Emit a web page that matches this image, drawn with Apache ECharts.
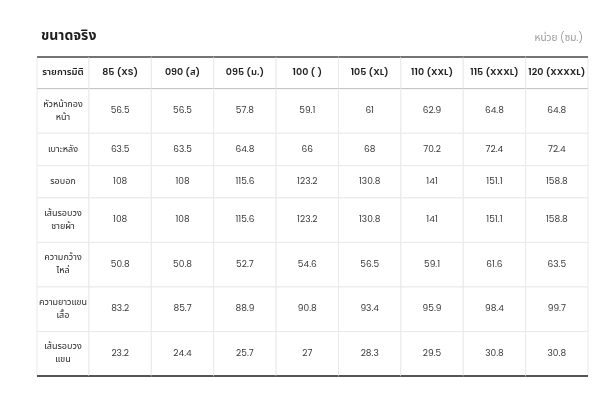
<!DOCTYPE html>
<html><head><meta charset="utf-8">
<script src="https://cdn.jsdelivr.net/npm/echarts@6/dist/echarts.min.js"></script>
<style>html,body{margin:0;padding:0;background:#fff}#c{width:615px;height:400px}</style>
</head><body><div id="c"></div>
<script>
const titleText = 'ขนาดจริง';
const unitText = 'หน่วย (ซม.)';
const cornerLabel = 'รายการมิติ';
const sizes = ['85 (XS)', '090 (ส)', '095 (ม.)', '100 ( )', '105 (XL)', '110 (XXL)', '115 (XXXL)', '120 (XXXXL)'];
const measures = ['หัวหน้ากอง\nหน้า', 'เบาะหลัง', 'รอบอก', 'เส้นรอบวง\nชายผ้า', 'ความกว้าง\nไหล่', 'ความยาวแขน\nเสื้อ', 'เส้นรอบวง\nแขน'];
const frontLength = [56.5, 56.5, 57.8, 59.1, 61, 62.9, 64.8, 64.8];
const backLength = [63.5, 63.5, 64.8, 66, 68, 70.2, 72.4, 72.4];
const chest = [108, 108, 115.6, 123.2, 130.8, 141, 151.1, 158.8];
const hem = [108, 108, 115.6, 123.2, 130.8, 141, 151.1, 158.8];
const shoulder = [50.8, 50.8, 52.7, 54.6, 56.5, 59.1, 61.6, 63.5];
const sleeveLength = [83.2, 85.7, 88.9, 90.8, 93.4, 95.9, 98.4, 99.7];
const sleeveCirc = [23.2, 24.4, 25.7, 27, 28.3, 29.5, 30.8, 30.8];
const rowValues = [frontLength, backLength, chest, hem, shoulder, sleeveLength, sleeveCirc];

// layout weights (styling)
const FIRST_COL_W = 52, COL_W = 62.4;
const HEADER_H = 32, ONE_LINE_H = 32.5, TWO_LINE_H = 44.8;
const colEdges = [0];
colEdges.push(FIRST_COL_W);
sizes.forEach(() => colEdges.push(colEdges[colEdges.length - 1] + COL_W));
const rowEdges = [0, HEADER_H];
measures.forEach(m => rowEdges.push(rowEdges[rowEdges.length - 1] + (m.indexOf('\n') >= 0 ? TWO_LINE_H : ONE_LINE_H)));
const totalW = colEdges[colEdges.length - 1];
const totalH = rowEdges[rowEdges.length - 1];

function cellText(col, row) {
  if (row === 0) return col === 0 ? cornerLabel : sizes[col - 1];
  if (col === 0) return measures[row - 1];
  return String(rowValues[row - 1][col - 1]);
}

const cells = [];
for (let r = 0; r <= measures.length; r++) {
  for (let c = 0; c <= sizes.length; c++) cells.push([c, r]);
}

const FONT = "'Poppins','Noto Sans','Noto Sans Thai',sans-serif";
const nRows = measures.length + 1;

function renderItem(params, api) {
  const col = api.value(0), row = api.value(1);
  const p0 = api.coord([colEdges[col], rowEdges[row]]);
  const p1 = api.coord([colEdges[col + 1], rowEdges[row + 1]]);
  const x = p0[0], y = p0[1], w = p1[0] - p0[0], h = p1[1] - p0[1];
  const isHeader = row === 0;
  const isLabel = col === 0;
  const children = [{
    type: 'rect',
    shape: { x: x, y: y, width: w, height: h },
    style: { fill: '#fff', stroke: '#e9e9e9', lineWidth: 1 }
  }, {
    type: 'text',
    x: x + w / 2, y: y + h / 2,
    style: {
      text: cellText(col, row),
      align: 'center', verticalAlign: 'middle',
      fontFamily: FONT,
      fontSize: isHeader ? 9.5 : 9,
      fontWeight: isHeader ? 600 : 'normal',
      lineHeight: 13,
      fill: isHeader ? '#1e1e1e' : (isLabel ? '#2a2a2a' : '#3a3a3a')
    }
  }];
  if (isHeader) {
    children.push({ type: 'line', shape: { x1: x, y1: y, x2: x + w, y2: y }, style: { stroke: '#4a4a4a', lineWidth: 1.5 } });
    children.push({ type: 'line', shape: { x1: x, y1: y + h, x2: x + w, y2: y + h }, style: { stroke: '#4a4a4a', lineWidth: 1.5 } });
  }
  if (row === nRows - 1) {
    children.push({ type: 'line', shape: { x1: x, y1: y + h, x2: x + w, y2: y + h }, style: { stroke: '#555', lineWidth: 2 } });
  }
  return { type: 'group', children: children };
}

const chart = echarts.init(document.getElementById('c'), null, { renderer: 'canvas' });
chart.setOption({
  animation: false,
  backgroundColor: '#fff',
  title: [{
    text: titleText, left: 36, top: 24,
    textStyle: { fontFamily: FONT, fontSize: 14, fontWeight: 'bold', color: '#1e1e1e' }
  }, {
    text: unitText, right: 27, top: 28,
    textStyle: { fontFamily: FONT, fontSize: 10, fontWeight: 'normal', color: '#999' }
  }],
  grid: { left: 37, right: 27, top: 57, bottom: 24 },
  xAxis: { type: 'value', min: 0, max: totalW, show: false },
  yAxis: { type: 'value', min: 0, max: totalH, inverse: true, show: false },
  series: [{
    type: 'custom',
    renderItem: renderItem,
    data: cells,
    encode: { x: 0, y: 1 },
    clip: false,
    silent: true
  }]
});
</script></body></html>
